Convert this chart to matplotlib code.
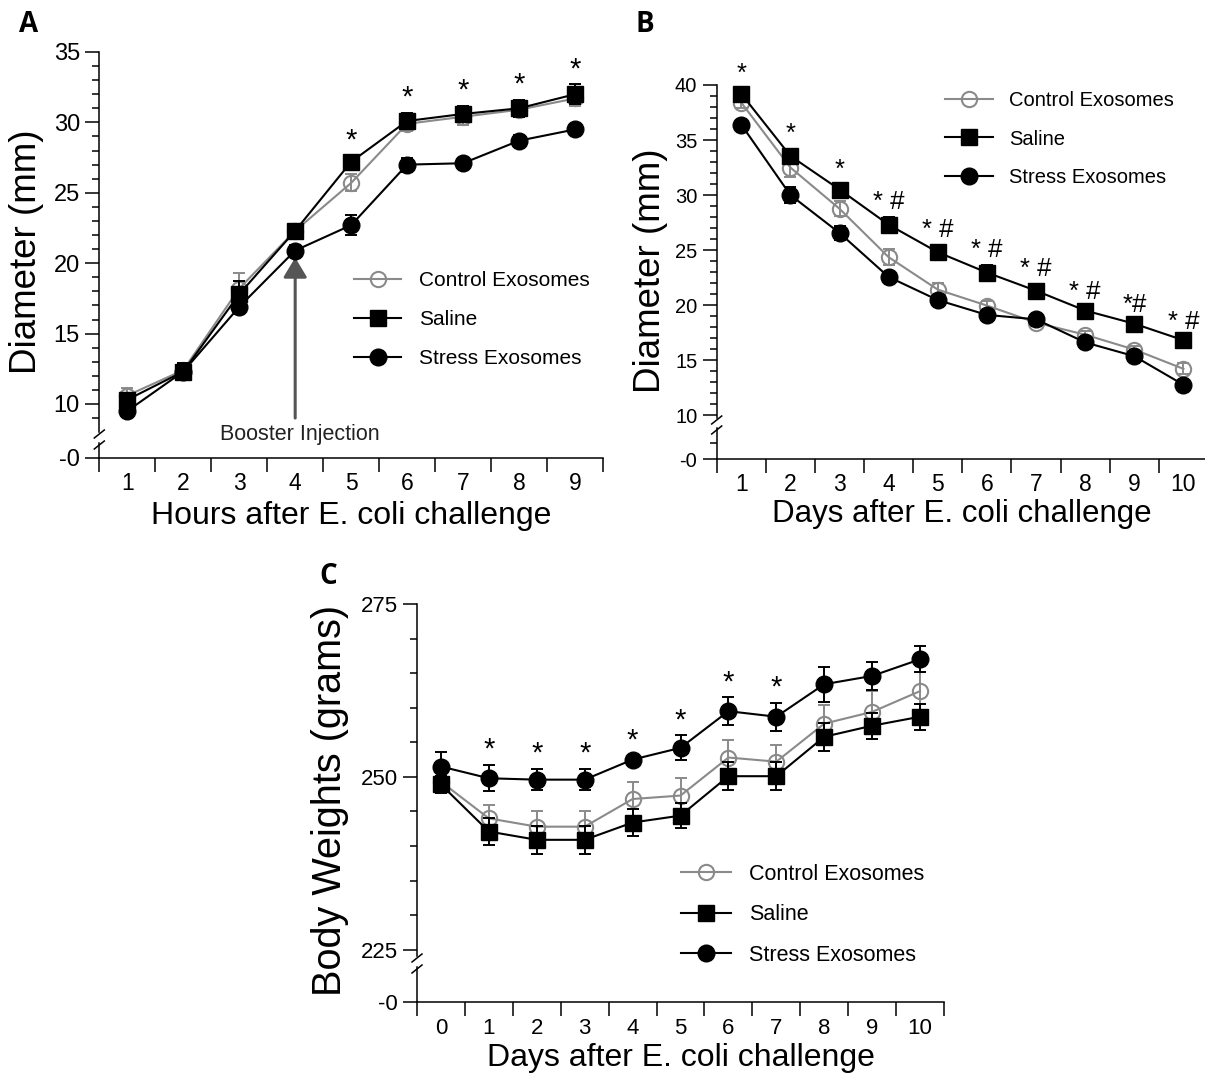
import matplotlib
matplotlib.use('Agg')
import matplotlib.pyplot as plt
from matplotlib.lines import Line2D
from matplotlib.ticker import MultipleLocator

plt.rcParams['font.family'] = ['Liberation Sans', 'DejaVu Sans']

W, H = 1205, 1078

# --- data (means +/- SEM) ---
legend_labels = ['Control Exosomes', 'Saline', 'Stress Exosomes']

hours = [1, 2, 3, 4, 5, 6, 7, 8, 9]
a_control = [10.6, 12.4, 18.2, 22.3, 25.7, 29.9, 30.4, 30.9, 31.7]
a_control_sem = [0.5, 0.5, 1.1, 0.3, 0.6, 0.5, 0.6, 0.5, 0.5]
a_saline = [10.3, 12.3, 17.8, 22.3, 27.2, 30.1, 30.6, 31.0, 32.0]
a_saline_sem = [0.5, 0.6, 0.9, 0.3, 0.4, 0.6, 0.6, 0.6, 0.7]
a_stress = [9.5, 12.3, 16.9, 20.9, 22.7, 27.0, 27.1, 28.7, 29.5]
a_stress_sem = [0.3, 0.5, 0.5, 0.4, 0.7, 0.5, 0.3, 0.4, 0.4]
a_marks = ['', '', '', '', '*', '*', '*', '*', '*']

days_b = [1, 2, 3, 4, 5, 6, 7, 8, 9, 10]
b_control = [38.4, 32.5, 28.75, 24.35, 21.4, 19.95, 18.4, 17.3, 15.95, 14.2]
b_control_sem = [0.5, 0.9, 0.7, 0.7, 0.6, 0.4, 0.3, 0.3, 0.3, 0.5]
b_saline = [39.2, 33.55, 30.5, 27.3, 24.8, 22.95, 21.3, 19.5, 18.3, 16.8]
b_saline_sem = [0.4, 0.6, 0.4, 0.7, 0.6, 0.7, 0.6, 0.3, 0.3, 0.3]
b_stress = [36.4, 30.0, 26.55, 22.55, 20.45, 19.1, 18.7, 16.6, 15.35, 12.75]
b_stress_sem = [0.4, 0.7, 0.6, 0.4, 0.4, 0.3, 0.3, 0.3, 0.3, 0.2]
b_marks = ['*', '*', '*', '* #', '* #', '* #', '* #', '* #', '*#', '* #']

days_c = [0, 1, 2, 3, 4, 5, 6, 7, 8, 9, 10]
c_control = [249.3, 244.0, 242.8, 242.8, 246.8, 247.3, 252.8, 252.2, 257.7, 259.4, 262.4]
c_control_sem = [1.5, 2.0, 2.2, 2.2, 2.5, 2.5, 2.5, 2.4, 2.7, 3.0, 2.8]
c_saline = [248.9, 242.1, 240.9, 240.9, 243.4, 244.4, 250.1, 250.1, 255.8, 257.4, 258.7]
c_saline_sem = [1.2, 2.0, 2.0, 2.0, 1.9, 1.8, 2.0, 2.0, 2.0, 1.9, 1.9]
c_stress = [251.5, 249.8, 249.6, 249.6, 252.5, 254.2, 259.5, 258.7, 263.4, 264.6, 267.0]
c_stress_sem = [2.1, 1.9, 1.5, 1.5, 0.5, 1.8, 2.0, 2.0, 2.5, 2.0, 1.9]
c_marks = ['', '*', '*', '*', '*', '*', '*', '*', '', '', '']

GRAY = '#8a8a8a'

fig = plt.figure(figsize=(W / 100, H / 100), dpi=100)


def px_rect(x0, y0, x1, y1):
    return [x0 / W, 1 - y1 / H, (x1 - x0) / W, (y1 - y0) / H]


def fig_xy(x, y):
    return x / W, 1 - y / H


def slash(x, y):
    xs = [(x - 5) / W, (x + 5) / W]
    ys = [1 - (y + 4) / H, 1 - (y - 4) / H]
    fig.add_artist(Line2D(xs, ys, color='black', lw=1.1))


def broken_axes(left, right, top, cut, low, base, ylim_top, ylim_low, xs, ysize, xsize, xpad):
    ax = fig.add_axes(px_rect(left, top, right, cut))
    ax0 = fig.add_axes(px_rect(left, low, right, base))
    xlim = (xs[0] - 0.5, xs[-1] + 0.5)
    for a in (ax, ax0):
        a.set_xlim(xlim)
        a.patch.set_alpha(0)
        a.spines['top'].set_visible(False)
        a.spines['right'].set_visible(False)
        a.spines['left'].set_linewidth(1.1)
        a.spines['bottom'].set_linewidth(1.1)
        a.tick_params(axis='y', which='major', length=10, width=1.1, labelsize=ysize, pad=4)
        a.tick_params(axis='y', which='minor', length=5, width=1.1)
    ax.spines['bottom'].set_visible(False)
    ax.tick_params(axis='x', which='both', bottom=False, labelbottom=False)
    ax.set_ylim(ylim_top)
    ax0.set_ylim(ylim_low)
    ax0.set_yticks([0])
    ax0.set_yticklabels(['-0'])
    ax0.set_xticks([x - 0.5 for x in xs] + [xs[-1] + 0.5])
    ax0.set_xticks(xs, minor=True)
    ax0.set_xticklabels([str(x) for x in xs], minor=True)
    ax0.tick_params(axis='x', which='major', length=10, width=1.1, labelbottom=False)
    ax0.tick_params(axis='x', which='minor', length=0, labelsize=xsize, pad=xpad)
    slash(left, cut + 2)
    slash(left, low + 2)
    return ax, ax0


def draw_series(ax, xs, groups, marks, star_size, star_off):
    handles = []
    styles = [
        dict(color=GRAY, marker='o', mfc='none', mec=GRAY, ms=11, mew=1.5),
        dict(color='black', marker='s', mfc='black', mec='black', ms=11.5),
        dict(color='black', marker='o', mfc='black', mec='black', ms=12),
    ]
    for i, ((vals, sem), st) in enumerate(zip(groups, styles)):
        ax.errorbar(xs, vals, yerr=sem, fmt='none', ecolor=st['color'], elinewidth=1.4,
                    capsize=4.5, capthick=1.4, zorder=3 + i, clip_on=False)
        ln, = ax.plot(xs, vals, lw=1.5, zorder=3 + i, clip_on=False, **st)
        handles.append(ln)
    for j, m in enumerate(marks):
        if not m:
            continue
        top = max(v[j] + s[j] for v, s in groups)
        ax.annotate(m, (xs[j], top), xytext=(0, star_off), textcoords='offset points',
                    ha='center', va='center', fontsize=star_size)
    return handles


def add_legend(ax, handles, x, y, size, hl, pad, spacing):
    ax.legend(handles, legend_labels, loc='upper left', bbox_to_anchor=fig_xy(x, y),
              bbox_transform=fig.transFigure, frameon=False, borderpad=0, borderaxespad=0,
              handlelength=hl, handletextpad=pad, labelspacing=spacing, fontsize=size,
              numpoints=1)


# ---------------- panel A ----------------
axA, axA0 = broken_axes(99.3, 603, 52, 432, 443, 458, (8.01, 35), (0, 1.07), hours, 17, 16.5, 10)
axA.yaxis.set_major_locator(MultipleLocator(5))
axA.yaxis.set_minor_locator(MultipleLocator(1))
hA = draw_series(axA, hours, [(a_control, a_control_sem), (a_saline, a_saline_sem),
                              (a_stress, a_stress_sem)], a_marks, 21, 11)
add_legend(axA, hA, 354, 271, 15, 2.26, 0.85, 0.97)
axA.annotate('', xy=(4, 20.4), xytext=(4, 9.0),
             arrowprops=dict(arrowstyle='-|>,head_length=0.6,head_width=0.36', color='#555555',
                             lw=2.2, mutation_scale=20, shrinkA=0, shrinkB=0))
axA.text(4.09, 7.8, 'Booster Injection', ha='center', va='center', fontsize=15.5, color='#222222')
fig.text(*fig_xy(27, 252), 'Diameter (mm)', rotation=90, ha='center', va='center', fontsize=26.5)
fig.text(*fig_xy(351, 516), 'Hours after E. coli challenge', ha='center', va='center', fontsize=23)
fig.text(*fig_xy(29, 25), 'A', ha='center', va='center', fontsize=20, fontweight='bold',
         family=['Open Sans', 'DejaVu Sans'])

# ---------------- panel B ----------------
axB, axB0 = broken_axes(716.7, 1208, 85, 418, 428, 459.3, (9.73, 40), (0, 2.85), days_b, 14.5, 16.5, 10)
axB.yaxis.set_major_locator(MultipleLocator(5))
axB.yaxis.set_minor_locator(MultipleLocator(1))
axB0.set_yticks([1.5], minor=True)
hB = draw_series(axB, days_b, [(b_control, b_control_sem), (b_saline, b_saline_sem),
                               (b_stress, b_stress_sem)], b_marks, 18.5, 11)
add_legend(axB, hB, 945, 91, 14.5, 2.4, 0.8, 0.97)
fig.text(*fig_xy(650, 271), 'Diameter (mm)', rotation=90, ha='center', va='center', fontsize=26.5)
fig.text(*fig_xy(962, 514), 'Days after E. coli challenge', ha='center', va='center', fontsize=22.5)
fig.text(*fig_xy(645, 24), 'B', ha='center', va='center', fontsize=20, fontweight='bold',
         family=['Open Sans', 'DejaVu Sans'])

# ---------------- panel C ----------------
axC, axC0 = broken_axes(417, 944, 604, 956, 967, 1001.7, (224.1, 275), (0, 5.0), days_c, 16, 16, 12)
axC.yaxis.set_major_locator(MultipleLocator(25))
axC.yaxis.set_minor_locator(MultipleLocator(5))
hC = draw_series(axC, days_c, [(c_control, c_control_sem), (c_saline, c_saline_sem),
                               (c_stress, c_stress_sem)], c_marks, 21, 11)
add_legend(axC, hC, 681, 864, 15.5, 2.33, 0.85, 0.9)
fig.text(*fig_xy(330, 800), 'Body Weights (grams)', rotation=90, ha='center', va='center', fontsize=28.5)
fig.text(*fig_xy(681, 1058), 'Days after E. coli challenge', ha='center', va='center', fontsize=23)
fig.text(*fig_xy(328, 577), 'C', ha='center', va='center', fontsize=20, fontweight='bold',
         family=['Open Sans', 'DejaVu Sans'])

fig.savefig('out.png', dpi=100)
